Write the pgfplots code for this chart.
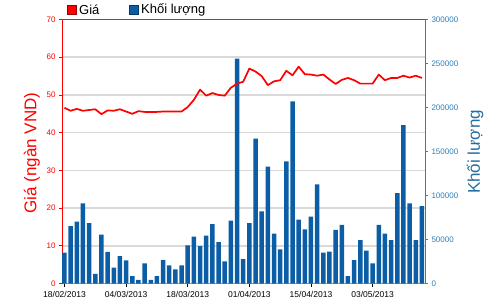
\documentclass[border=0pt]{standalone}
\usepackage{fontspec}
\setmainfont{Liberation Sans}
\usepackage{pgfplots}
\pgfplotsset{compat=1.18}
\definecolor{pricered}{RGB}{255,0,0}
\definecolor{volblue}{RGB}{11,94,166}
\definecolor{axblue}{RGB}{45,128,188}
\definecolor{gridgray}{RGB}{217,217,217}
\definecolor{bordergray}{RGB}{90,90,90}

\pgfplotstableread{
i vol
0 35000
1 65300
2 70200
3 91100
4 68700
5 10800
6 55400
7 35800
8 18000
9 31200
10 26300
11 8500
12 4000
13 23000
14 4000
15 8500
16 26800
17 20700
18 16100
19 20500
20 43400
21 53200
22 42600
23 54300
24 67600
25 47100
26 25200
27 71400
28 255500
29 27800
30 68700
31 164500
32 82000
33 132700
34 56600
35 38800
36 138800
37 207000
38 72500
39 61600
40 75900
41 112700
42 35000
43 36100
44 60800
45 66500
46 8500
47 26700
48 49400
49 37300
50 22900
51 66500
52 56600
53 49400
54 102800
55 180000
56 91100
57 49400
58 88000
}\voltable

\pgfplotstableread{
i price
0 46.6
1 45.8
2 46.3
3 45.8
4 46.0
5 46.2
6 44.9
7 45.9
8 45.8
9 46.2
10 45.6
11 45.0
12 45.7
13 45.5
14 45.5
15 45.5
16 45.6
17 45.6
18 45.6
19 45.6
20 46.8
21 48.7
22 51.4
23 49.8
24 50.5
25 50.0
26 49.8
27 51.9
28 53.0
29 53.5
30 57.0
31 56.2
32 55.0
33 52.6
34 53.6
35 53.9
36 56.4
37 55.2
38 57.5
39 55.5
40 55.4
41 55.1
42 55.4
43 54.1
44 52.9
45 54.0
46 54.5
47 53.9
48 53.0
49 53.0
50 53.0
51 55.4
52 53.9
53 54.5
54 54.5
55 55.1
56 54.6
57 55.1
58 54.5
}\pricetable

\begin{document}
\begin{tikzpicture}[x=1pt,y=1pt]
\useasboundingbox (0,0) rectangle (500,300);
\pgfplotsset{
  common/.style={
    at={(62pt,16.5pt)}, anchor=south west, scale only axis,
    width=363pt, height=264pt,
    xmin=-0.4, xmax=58.5,
    clip=false,
  }
}
% Axis 1: price grid, left axis, x ticks
\begin{axis}[common,
  ymin=0, ymax=70,
  axis x line*=bottom, axis y line*=left,
  x axis line style={draw=gridgray!70!black, line width=0.8pt},
  y axis line style={draw=pricered, line width=0.8pt},
  xtick={0,10,20,30,40,50},
  xticklabels={18/02/2013,04/03/2013,18/03/2013,01/04/2013,15/04/2013,03/05/2013},
  x tick style={black, line width=0.6pt},
  xticklabel style={font=\fontsize{8.5}{9}\selectfont, black, yshift=-1pt},
  ytick={0,10,20,30,40,50,60,70},
  yticklabels={0,10,20,30,40,50,60,70},
  y tick style={pricered, line width=0.6pt},
  yticklabel style={font=\fontsize{8}{9}\selectfont, pricered},
  tick align=outside, major tick length=3pt,
  ymajorgrids, grid style={gridgray, line width=1.5pt},
]
\addplot[draw=none, forget plot] coordinates {(0,0)};
\draw[bordergray, line width=1.2pt] (rel axis cs:0,1) -- (rel axis cs:1,1);
\end{axis}
% Axis 2: volume bars, right axis
\begin{axis}[common,
  ymin=0, ymax=300000,
  axis x line=none, axis y line*=right,
  y axis line style={draw=axblue, line width=0.8pt},
  ytick={0,50000,100000,150000,200000,250000,300000},
  yticklabels={0,50000,100000,150000,200000,250000,300000},
  scaled y ticks=false,
  y tick style={axblue, line width=0.6pt},
  yticklabel style={font=\fontsize{8}{9}\selectfont, axblue},
  tick align=outside, major tick length=3pt,
]
\addplot[ybar, bar width=4.5pt, fill=volblue, draw=none] table[x=i, y=vol] {\voltable};
\end{axis}
% Axis 3: price line
\begin{axis}[common, ymin=0, ymax=70, hide axis]
\addplot[pricered, line width=1.7pt, line join=round, mark=none] table[x=i, y=price] {\pricetable};
\end{axis}
% Axis labels
\node[rotate=90, text=pricered, font=\fontsize{17}{18}\selectfont] at (32,147) {Giá (ngàn VND)};
\node[rotate=90, text=axblue!85!black, font=\fontsize{17}{18}\selectfont] at (475,148) {Khối lượng};
% Legend
\draw[fill=pricered, draw=pricered!60!black, line width=0.6pt] (67.5,286) rectangle (76.5,295);
\node[anchor=west, font=\fontsize{13}{14}\selectfont, inner sep=0pt] at (79,290.5) {Giá};
\draw[fill=volblue, draw=volblue!60!black, line width=0.6pt] (129,286) rectangle (138,295);
\node[anchor=west, font=\fontsize{13}{14}\selectfont, inner sep=0pt] at (141,290.5) {Khối lượng};
\end{tikzpicture}
\end{document}
